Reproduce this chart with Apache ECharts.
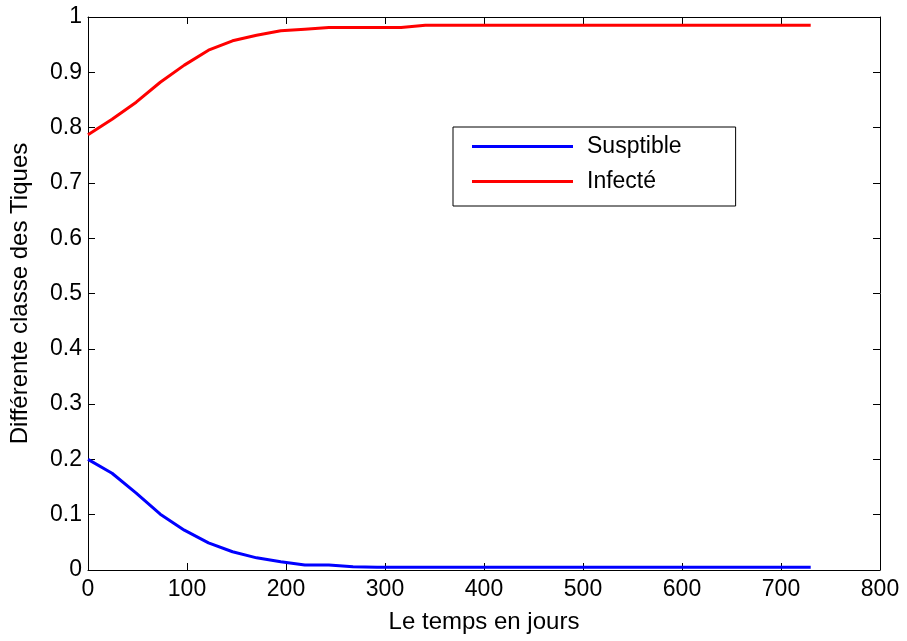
<!DOCTYPE html>
<html>
<head>
<meta charset="utf-8">
<script src="https://cdn.jsdelivr.net/npm/echarts@6/dist/echarts.min.js"></script>
<style>html,body{margin:0;padding:0;background:#fff}#c{width:907px;height:641px}</style>
</head>
<body>
<div id="c"></div>
<script>
var days = [0, 24.3, 48.7, 73, 97.3, 121.7, 146, 170.3, 194.7, 219, 243.3, 267.7, 292, 316.3, 340.7, 365, 389.3, 413.7, 438, 462.3, 486.7, 511, 535.3, 559.7, 584, 608.3, 632.7, 657, 681.3, 705.7, 730];
var susceptible = [0.200, 0.175, 0.139, 0.101, 0.072, 0.049, 0.033, 0.022, 0.015, 0.009, 0.009, 0.006, 0.005, 0.005, 0.005, 0.005, 0.005, 0.005, 0.005, 0.005, 0.005, 0.005, 0.005, 0.005, 0.005, 0.005, 0.005, 0.005, 0.005, 0.005, 0.005];
var infected = [0.787, 0.815, 0.846, 0.882, 0.913, 0.940, 0.957, 0.967, 0.975, 0.978, 0.981, 0.981, 0.981, 0.981, 0.985, 0.985, 0.985, 0.985, 0.985, 0.985, 0.985, 0.985, 0.985, 0.985, 0.985, 0.985, 0.985, 0.985, 0.985, 0.985, 0.985];
var seriesNames = ['Susptible', 'Infecté'];
var xTicks = {min: 0, max: 800, interval: 100};
var yTicks = {min: 0, max: 1, interval: 0.1};

function pairs(xs, ys) { return xs.map(function (x, i) { return [x, ys[i]]; }); }

var font = 'Liberation Sans, Arial, sans-serif';
var axisLine = {show: true, onZero: false, lineStyle: {color: '#000', width: 1}};
var tick = {show: true, inside: true, length: 7, lineStyle: {color: '#000'}};

var chart = echarts.init(document.getElementById('c'), null, {renderer: 'canvas'});
chart.setOption({
  animation: false,
  backgroundColor: '#fff',
  grid: {left: 88, right: 27, top: 17, bottom: 71, containLabel: false},
  legend: {
    data: seriesNames,
    orient: 'vertical',
    left: 453, top: 127,
    backgroundColor: '#fff',
    borderColor: '#000', borderWidth: 1,
    padding: [8, 54, 13, 19],
    itemWidth: 101, itemHeight: 3, itemGap: 12,
    icon: 'rect',
    textStyle: {fontFamily: font, fontSize: 23, color: '#000', padding: [4, 0, 0, 9]}
  },
  xAxis: [{
    type: 'value', min: xTicks.min, max: xTicks.max, interval: xTicks.interval,
    name: 'Le temps en jours', nameLocation: 'middle', nameGap: 40,
    nameTextStyle: {fontFamily: font, fontSize: 24, color: '#000'},
    axisLine: axisLine, axisTick: tick, splitLine: {show: false},
    axisLabel: {fontFamily: font, fontSize: 23, color: '#000', margin: 8}
  }, {
    type: 'value', position: 'top', min: xTicks.min, max: xTicks.max, interval: xTicks.interval,
    axisLine: axisLine, axisTick: tick, splitLine: {show: false}, axisLabel: {show: false}
  }],
  yAxis: [{
    type: 'value', min: yTicks.min, max: yTicks.max, interval: yTicks.interval,
    name: 'Différente classe des Tiques', nameLocation: 'middle', nameGap: 56,
    nameTextStyle: {fontFamily: font, fontSize: 24, color: '#000'},
    axisLine: axisLine, axisTick: tick, splitLine: {show: false},
    axisLabel: {fontFamily: font, fontSize: 23, color: '#000', margin: 6,
      formatter: function (v) { return String(Math.round(v * 10) / 10); }}
  }, {
    type: 'value', position: 'right', min: yTicks.min, max: yTicks.max, interval: yTicks.interval,
    axisLine: axisLine, axisTick: tick, splitLine: {show: false}, axisLabel: {show: false}
  }],
  series: [{
    name: seriesNames[0], type: 'line', data: pairs(days, susceptible),
    showSymbol: false, symbol: 'none', color: '#0000ff',
    lineStyle: {color: '#0000ff', width: 3}
  }, {
    name: seriesNames[1], type: 'line', data: pairs(days, infected),
    showSymbol: false, symbol: 'none', color: '#ff0000',
    lineStyle: {color: '#ff0000', width: 3}
  }]
});
</script>
</body>
</html>
